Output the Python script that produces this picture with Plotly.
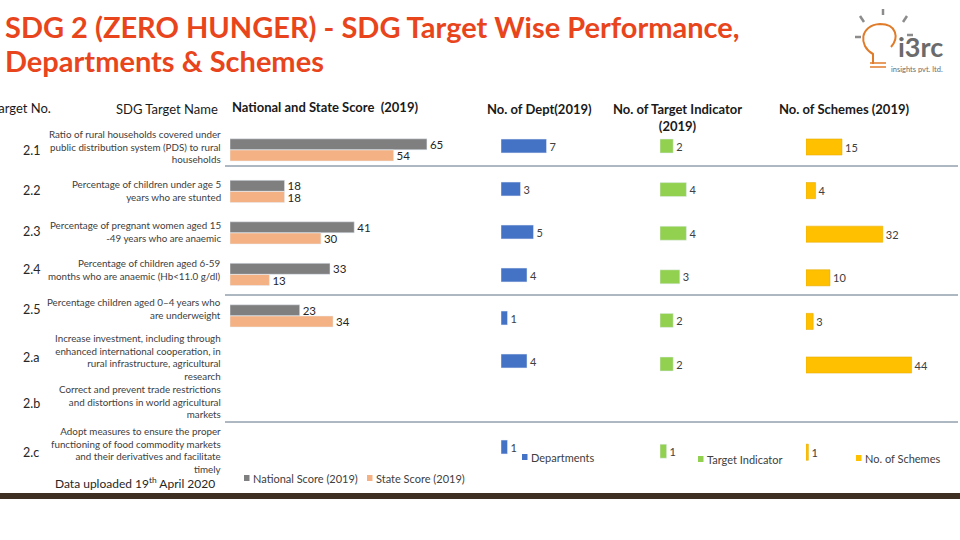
import plotly.graph_objects as go

# ---------------- data ----------------
target_no = ["2.1", "2.2", "2.3", "2.4", "2.5", "2.a", "2.b", "2.c"]
target_names = [
    "Ratio of rural households covered under<br>public distribution system (PDS) to rural<br>households",
    "Percentage of children under age 5<br>years who are stunted",
    "Percentage of pregnant women aged 15<br>-49 years who are anaemic",
    "Percentage of children aged 6-59<br>months who are anaemic (Hb<11.0 g/dl)",
    "Percentage children aged 0–4 years who<br>are underweight",
    "Increase investment, including through<br>enhanced international cooperation, in<br>rural infrastructure, agricultural<br>research",
    "Correct and prevent trade restrictions<br>and distortions in world agricultural<br>markets",
    "Adopt measures to ensure the proper<br>functioning of food commodity markets<br>and their derivatives and facilitate<br>timely",
]
national_score = [65, 18, 41, 33, 23, None, None, None]
state_score = [54, 18, 30, 13, 34, None, None, None]
departments = [7, 3, 5, 4, 1, 4, None, 1]
target_indicators = [2, 4, 4, 3, 2, 2, None, 1]
schemes = [15, 4, 32, 10, 3, 44, None, 1]

W, H = 960, 540
def px(x): return x / W
def py(y): return 1 - y / H

FONT = "Lato"
TXT = "#404040"
C_NAT, C_STATE, C_DEPT, C_TI, C_SCH = "#7F7F7F", "#F4B183", "#4472C4", "#92D050", "#FFC000"

fig = go.Figure()

def bar(vals, name, color, width, offset, xa, ya, size, tcolor, line=None):
    marker = dict(color=color)
    if line:
        marker["line"] = line
    fig.add_trace(go.Bar(y=target_no, x=vals, orientation="h", name=name,
                         marker=marker, width=width, offset=offset,
                         text=[("" if v is None else str(v)) for v in vals],
                         textposition="outside", cliponaxis=False, constraintext="none",
                         textfont=dict(size=size, color=tcolor, family=FONT),
                         xaxis=xa, yaxis=ya, showlegend=False))

bar(national_score, "National Score (2019)", C_NAT, 0.265, -0.27, "x", "y", 11.5, "#262626")
bar(state_score, "State Score (2019)", C_STATE, 0.265, 0.0, "x", "y", 11.5, "#262626")
bar(departments, "Departments", C_DEPT, 0.32, -0.16, "x2", "y2", 11, TXT)
bar(target_indicators, "Target Indicator", C_TI, 0.32, -0.16, "x3", "y3", 11, TXT)
bar(schemes, "No. of Schemes", C_SCH, 0.37, -0.185, "x4", "y4", 11, TXT,
    line=dict(color="#E0A800", width=0.5))

def xax(x0, x1, scale):
    return dict(domain=[px(x0), px(x1)], range=[0, (x1 - x0) / scale], visible=False, fixedrange=True)

def yax(top, spacing, anchor):
    bottom = top + spacing * len(target_no)
    return dict(domain=[py(bottom), py(top)], type="category", categoryarray=target_no,
                range=[len(target_no) - 0.5, -0.5], visible=False, anchor=anchor, fixedrange=True)

fig.update_layout(
    width=W, height=H, margin=dict(l=0, r=0, t=0, b=0),
    paper_bgcolor="white", plot_bgcolor="rgba(0,0,0,0)",
    barmode="overlay", font=dict(family=FONT, color=TXT), showlegend=False,
    xaxis=dict(**xax(230, 480, 3.03), anchor="y"),
    yaxis=yax(150 - 20.75, 41.5, "x"),
    xaxis2=dict(**xax(501, 640, 6.5), anchor="y2"),
    yaxis2=yax(146 - 21.5, 43.0, "x2"),
    xaxis3=dict(**xax(660, 790, 6.6), anchor="y3"),
    yaxis3=yax(146 - 21.8, 43.6, "x3"),
    xaxis4=dict(**xax(806, 950, 2.4), anchor="y4"),
    yaxis4=yax(147 - 21.8, 43.6, "x4"),
)

ann = []
def text(x, y, s, size, color=TXT, xanchor="left", bold=False, align="left", family=FONT):
    if bold:
        s = "<b>" + s + "</b>"
    ann.append(dict(x=px(x), y=py(y), xref="paper", yref="paper", text=s, showarrow=False,
                    xanchor=xanchor, yanchor="middle", align=align,
                    font=dict(size=size, color=color, family=family)))

# Title
text(3, 26, "SDG 2 (ZERO HUNGER) - SDG Target Wise Performance,", 29, "#E8451C", bold=True)
text(3, 61, "Departments & Schemes", 29, "#E8451C", bold=True)

# Headers
text(53, 108, "Target No.", 13, "#1a1a1a", xanchor="right")
text(167, 109, "SDG Target Name", 13, "#1a1a1a", xanchor="center")
text(325, 107, "National and State Score  (2019)", 13, "#1a1a1a", xanchor="center", bold=True)
text(539, 109, "No. of Dept(2019)", 13, "#1a1a1a", xanchor="center", bold=True)
text(677, 117, "No. of Target Indicator<br>(2019)", 13, "#1a1a1a", xanchor="center", bold=True, align="center")
text(844, 109, "No. of Schemes (2019)", 13, "#1a1a1a", xanchor="center", bold=True)

# Target numbers and names
num_y = [150, 190, 231, 269, 309, 357, 403, 452]
name_y = [147, 190, 231, 269, 308, 357, 401, 450]
for n, ny, nm, my in zip(target_no, num_y, target_names, name_y):
    text(31, ny, n, 12.5, "#262626", xanchor="center")
    text(223, my, nm, 9.8, TXT, xanchor="right", align="right")

text(53, 483, "Data uploaded 19<sup>th</sup> April 2020", 12, "#262626")

# Legends (small squares + labels)
shapes = []
legend_items = [
    (244, 478, C_NAT, "National Score (2019)"),
    (367, 478, C_STATE, "State Score (2019)"),
    (522, 457, C_DEPT, "Departments"),
    (698, 459, C_TI, "Target Indicator"),
    (856, 458, C_SCH, "No. of Schemes"),
]
for lx, ly, col, lab in legend_items:
    shapes.append(dict(type="rect", xref="paper", yref="paper", x0=px(lx), x1=px(lx + 5.5),
                       y0=py(ly + 3), y1=py(ly - 3), fillcolor=col, line=dict(width=0)))
    text(lx + 7, ly, lab, 11, TXT)

# Logo text
text(945, 47, "<b>i3rc</b>", 27, "#6b6b6b", xanchor="right")
text(889, 69, "insights pvt. ltd.", 7.5, "#6b6b6b")

fig.update_layout(annotations=ann)

for yy in [166, 295, 422]:
    shapes.append(dict(type="line", xref="paper", yref="paper", x0=px(225), x1=px(958),
                       y0=py(yy), y1=py(yy), line=dict(color="#5B7085", width=1)))
shapes.append(dict(type="rect", xref="paper", yref="paper", x0=0, x1=1, y0=py(499), y1=py(493),
                   fillcolor="#3D3022", line=dict(width=0)))
# Logo rays
for (x0, y0, x1, y1) in [(860, 16, 864, 22), (883, 9, 883, 15), (903, 22, 907, 16),
                         (855, 37, 861, 37), (907, 35, 913, 35)]:
    shapes.append(dict(type="line", xref="paper", yref="paper", x0=px(x0), y0=py(y0),
                       x1=px(x1), y1=py(y1), line=dict(color="#8c8c8c", width=2.5)))
# Logo bulb outline
def P(x, y): return f"{px(x):.5f},{py(y):.5f}"
bulb = (f"M{P(873,64)} L{P(873,54)} C{P(858,46)} {P(860,25)} {P(880,24)} "
        f"C{P(897,24)} {P(899,38)} {P(891,47)}")
shapes.append(dict(type="path", xref="paper", yref="paper", path=bulb,
                   line=dict(color="#E07B2A", width=2)))
for yy in [63, 67]:
    shapes.append(dict(type="line", xref="paper", yref="paper", x0=px(870), x1=px(886),
                       y0=py(yy), y1=py(yy), line=dict(color="#E07B2A", width=1.5)))
fig.update_layout(shapes=shapes)

fig.write_html("out.html", config={"displayModeBar": False},
               post_script="document.body.style.margin='0px';")
